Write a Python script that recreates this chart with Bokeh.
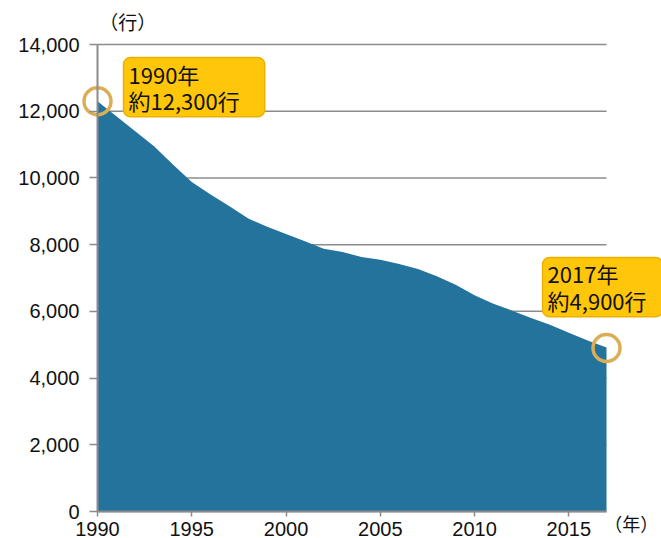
from bokeh.plotting import figure
from bokeh.models import Label, NumeralTickFormatter, FixedTicker, Range1d
from bokeh.embed import file_html
from bokeh.resources import INLINE

years = list(range(1990, 2018))
counts = [12300, 11850, 11400, 10950, 10400, 9880, 9500, 9150, 8780, 8540,
          8320, 8100, 7880, 7780, 7630, 7550, 7420, 7270, 7050, 6800,
          6480, 6230, 6020, 5800, 5600, 5360, 5130, 4920]
x_ticks = [1990, 1995, 2000, 2005, 2010, 2015]
y_ticks = [0, 2000, 4000, 6000, 8000, 10000, 12000, 14000]
callouts = [("1990年\n約12,300行", 1990, 12300), ("2017年\n約4,900行", 2017, 4900)]

AREA = "#24739c"
GRID = "#8c8c8c"
GOLD = "#dbae55"
TICKFONT = "Liberation Sans"
JP = "Noto Sans CJK JP"

# canvas geometry: the plot area spans px 97..606 horizontally, 44..511 vertically
W, H = 661, 538
L, R, T, B = 97, 606, 44, 511
x0, x1 = years[0], years[-1]
y0, y1 = y_ticks[0], y_ticks[-1]
xs = (x1 - x0) / (R - L)
ys = (y1 - y0) / (B - T)

p = figure(width=W, height=H, output_backend="svg", toolbar_location=None,
           x_range=Range1d(x0 - L * xs, x1 + (W - R) * xs),
           y_range=Range1d(y0 - (H - B) * ys, y1 + T * ys),
           min_border_left=0, min_border_right=0, min_border_top=0,
           min_border_bottom=0)
p.title.visible = False
p.outline_line_color = None
p.background_fill_color = "white"
p.border_fill_color = "white"
p.grid.visible = False

# horizontal gridlines limited to the data span
p.segment(x0=[x0] * len(y_ticks), x1=[x1] * len(y_ticks), y0=y_ticks, y1=y_ticks,
          line_color=GRID, line_width=1.5)

p.varea(x=years, y1=[0] * len(years), y2=counts, fill_color=AREA)

p.yaxis.ticker = FixedTicker(ticks=y_ticks)
p.yaxis.formatter = NumeralTickFormatter(format="0,0")
p.xaxis.ticker = FixedTicker(ticks=x_ticks)
p.xaxis.fixed_location = 0
p.yaxis.fixed_location = x0
p.xaxis.bounds = (x0, x1)
p.yaxis.bounds = (y0, y1)
for ax in (p.xaxis, p.yaxis):
    ax.axis_line_color = GRID
    ax.axis_line_width = 2
    ax.major_tick_line_color = GRID
    ax.major_tick_line_width = 1.5
    ax.minor_tick_line_color = None
    ax.major_tick_in = 0
    ax.major_label_text_font = TICKFONT
    ax.major_label_text_font_size = "20px"
    ax.major_label_text_color = "#111111"
p.yaxis.major_tick_out = 8
p.yaxis.major_label_standoff = 10
p.xaxis.major_tick_out = 5
p.xaxis.major_label_standoff = 5

# unit labels
p.add_layout(Label(x=1991.6, y=14700, text="（行）", text_font=JP, text_font_size="19px",
                   text_align="center", text_baseline="middle", text_color="#111111"))
p.add_layout(Label(x=2019.75, y=-340, text="（年）", text_font=JP, text_font_size="18px",
                   text_align="right", text_baseline="middle", text_color="#111111"))

# highlight circles
p.scatter(x=[c[1] for c in callouts], y=[c[2] for c in callouts], size=27,
          marker="circle", fill_alpha=0, line_color=GOLD, line_width=3.5)

# callout boxes (anchor = top-left corner of the box)
pos = [(1991.38, 13610, 25), (2013.61, 7615, 16)]
for (txt, _, _), (lx, ly, rp) in zip(callouts, pos):
    pad = dict(left=5, right=rp, top=0, bottom=1)
    p.add_layout(Label(x=lx + 0.12, y=ly - 100, text=txt, text_font=JP, text_font_size="22px",
                       text_align="left", text_baseline="top", text_alpha=0,
                       background_fill_color="#6b5a30", background_fill_alpha=0.3,
                       padding=pad, border_radius=7, text_line_height=0.82))
    p.add_layout(Label(x=lx, y=ly, text=txt, text_font=JP, text_font_size="22px",
                       text_align="left", text_baseline="top", text_color="#111111",
                       background_fill_color="#ffc60a", border_line_color="#eeb000",
                       border_line_width=1.5, padding=pad, border_radius=7,
                       text_line_height=0.82))

open("out.html", "w").write(file_html(p, INLINE))
